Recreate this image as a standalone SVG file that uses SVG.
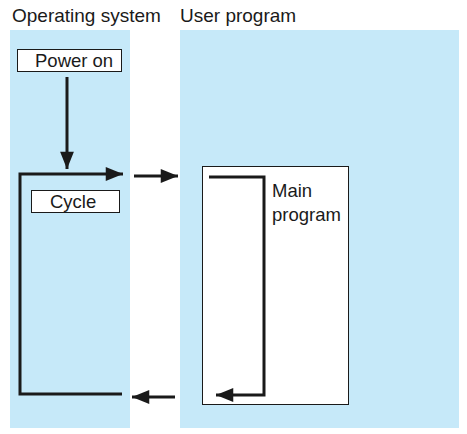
<svg xmlns="http://www.w3.org/2000/svg" width="467" height="434" viewBox="0 0 467 434">
<defs>
<style>
.panel{fill:#c6e9f9}
.box{fill:#fff;stroke:#1a1a1a;stroke-width:1}
.t{font-family:"Liberation Sans",Arial,sans-serif;font-size:18.5px;fill:#1a1a1a}
.ln{fill:none;stroke:#1a1a1a;stroke-width:3}
</style>
<marker id="ah" viewBox="0 0 10 8" refX="10" refY="4" markerWidth="6" markerHeight="4.6" markerUnits="strokeWidth" orient="auto">
<path d="M0,0 L10,4 L0,8 Z" fill="#1a1a1a"/>
</marker>
</defs>
<g id="os-panel">
<rect class="panel" x="10" y="30" width="120" height="398"/>
<text class="t" x="12" y="22" style="font-size:19px">Operating system</text>
</g>
<g id="user-panel">
<rect class="panel" x="180" y="30" width="279" height="398"/>
<text class="t" x="180" y="22" style="font-size:19px">User program</text>
</g>
<g id="power-on">
<rect class="box" x="17.5" y="49.5" width="104" height="22"/>
<text class="t" x="35" y="67">Power on</text>
</g>
<g id="cycle">
<rect class="box" x="31.5" y="190.5" width="88" height="22"/>
<text class="t" x="50" y="208">Cycle</text>
</g>
<g id="main-program">
<rect class="box" x="202.5" y="166.5" width="146" height="238"/>
<text class="t" x="272" y="197">Main</text>
<text class="t" x="272" y="221">program</text>
</g>
<g id="connectors">
<line class="ln" x1="67" y1="77" x2="67" y2="169" marker-end="url(#ah)"/>
<polyline class="ln" points="122,394 20,394 20,174 123,174" marker-end="url(#ah)"/>
<line class="ln" x1="134" y1="176" x2="178" y2="176" marker-end="url(#ah)"/>
<polyline class="ln" points="209,177 264,177 264,395 216,395" marker-end="url(#ah)"/>
<line class="ln" x1="175" y1="397" x2="132" y2="397" marker-end="url(#ah)"/>
</g>
</svg>
